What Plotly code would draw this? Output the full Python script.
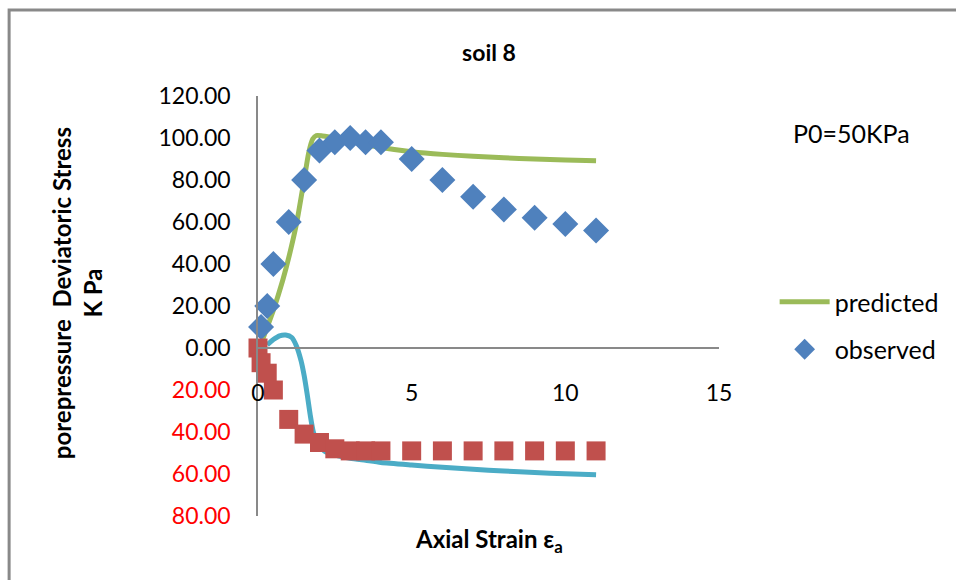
import plotly.graph_objects as go

# Deviatoric stress vs axial strain
strain_obs = [0.1, 0.3, 0.5, 1.0, 1.5, 2.0, 2.5, 3.0, 3.5, 4.0, 5.0, 6.0, 7.0, 8.0, 9.0, 10.0, 11.0]
stress_obs = [10, 20, 40, 60, 80, 94, 98, 100, 98, 98, 90, 80, 72, 66, 62, 59, 56]

strain_pred = [0.05, 0.2, 0.5, 0.8, 1.0, 1.25, 1.5, 1.65, 1.78, 1.9, 2.1, 2.5, 3.0, 4.0, 5.0, 6.0, 7.0, 8.0, 9.0, 10.0, 11.0]
stress_pred = [0, 6, 18, 32, 43, 59, 80, 93, 99.5, 101.2, 101, 100, 98.3, 95.5, 93.5, 92.2, 91.3, 90.6, 90.0, 89.5, 89.2]

# Pore pressure (plotted negative, below the strain axis)
strain_pp_obs = [0.0, 0.1, 0.3, 0.5, 1.0, 1.5, 2.0, 2.5, 3.0, 3.5, 4.0, 5.0, 6.0, 7.0, 8.0, 9.0, 10.0, 11.0]
pp_obs = [0, -7, -12, -20, -34, -41, -45, -48, -49, -49, -49, -49, -49, -49, -49, -49, -49, -49]

strain_pp_pred = [0.3, 0.5, 0.7, 0.9, 1.1, 1.25, 1.4, 1.5, 1.6, 1.7, 1.8, 1.95, 2.2, 2.6, 3.0, 3.5, 4.0, 5.0, 6.0, 7.0, 8.0, 9.0, 10.0, 11.0]
pp_pred = [1.5, 4, 5.8, 6.2, 5, 1, -6, -13, -22, -32, -40, -46, -49.5, -51.3, -52.5, -53.5, -54.5, -55.7, -56.8, -57.7, -58.6, -59.3, -59.9, -60.4]

y_ticks = [-80, -60, -40, -20, 0, 20, 40, 60, 80, 100, 120]
x_ticks = [0, 5, 10, 15]

GREEN = "#9BBB59"
BLUE = "#4F81BD"
RED = "#C0504D"
CYAN = "#4BACC6"
AXIS = "#898989"
FONT = "Lato"


def y_label(v):
    if v < 0:
        return f'<span style="color:#FF0000">{abs(v):.2f}</span>'
    return f"{v:.2f}"


fig = go.Figure()

fig.add_trace(go.Scatter(
    x=strain_pred, y=stress_pred, mode="lines", name="predicted",
    line=dict(color=GREEN, width=5, shape="spline", smoothing=0.6),
    legendgroup="a", cliponaxis=False,
))
fig.add_trace(go.Scatter(
    x=strain_obs, y=stress_obs, mode="markers", name="observed",
    marker=dict(symbol="diamond", color=BLUE, size=20),
    legendgroup="b", cliponaxis=False,
))
fig.add_trace(go.Scatter(
    x=strain_pp_pred, y=pp_pred, mode="lines", name="porepressure predicted",
    line=dict(color=CYAN, width=5, shape="spline", smoothing=0.6),
    showlegend=False, cliponaxis=False,
))
fig.add_trace(go.Scatter(
    x=strain_pp_obs, y=pp_obs, mode="markers", name="porepressure observed",
    marker=dict(symbol="square", color=RED, size=19),
    showlegend=False, cliponaxis=False,
))

# plot area: x 258..722 px, y 96..516 px
L, R, T, B = 258, 956 - 722, 96, 580 - 516
PW, PH = 956 - L - R, 580 - T - B


def px_x(px):
    return (px - L) / PW


def px_y(py):
    return (580 - B - py) / PH


fig.update_layout(
    width=956, height=580,
    margin=dict(l=L, r=R, t=T, b=B),
    paper_bgcolor="white", plot_bgcolor="white",
    font=dict(family=FONT, size=23, color="black"),
    title=dict(text="<b>soil 8</b>", x=489 / 956, y=1 - 53 / 580,
               xanchor="center", yanchor="middle",
               font=dict(family=FONT, size=23, color="black")),
    xaxis=dict(
        range=[0, 15], tickvals=x_ticks, ticktext=[str(v) for v in x_ticks],
        showgrid=False, zeroline=False, showline=True, linecolor=AXIS, linewidth=1.5,
        ticks="", anchor="free", position=px_y(348), ticklabelstandoff=25,
        tickfont=dict(family=FONT, size=23, color="black"),
    ),
    yaxis=dict(
        range=[-80, 120], tickvals=y_ticks, ticktext=[y_label(v) for v in y_ticks],
        showgrid=False, zeroline=False, showline=True, linecolor=AXIS, linewidth=1.5,
        ticks="", ticklabelstandoff=21,
        tickfont=dict(family=FONT, size=23, color="black"),
    ),
    legend=dict(
        x=px_x(778), y=px_y(279), xanchor="left", yanchor="top",
        bgcolor="rgba(0,0,0,0)", tracegroupgap=12, itemwidth=50,
        font=dict(family=FONT, size=25, color="black"),
    ),
    showlegend=True,
)

fig.add_annotation(
    text="<b>porepressure\u00a0 Deviatoric Stress<br>K Pa</b>",
    textangle=-90, xref="paper", yref="paper",
    x=px_x(76), y=px_y(293), xanchor="center", yanchor="middle",
    showarrow=False, font=dict(family=FONT, size=24, color="black"),
)
fig.add_annotation(
    text="<b>Axial Strain ε<sub>a</sub></b>",
    xref="paper", yref="paper", x=px_x(491), y=px_y(540),
    xanchor="center", yanchor="middle", showarrow=False,
    font=dict(family=FONT, size=24, color="black"),
)
fig.add_annotation(
    text="P0=50KPa", xref="paper", yref="paper",
    x=px_x(855), y=px_y(133), xanchor="center", yanchor="middle",
    showarrow=False, font=dict(family=FONT, size=25, color="black"),
)

# chart frame
fig.add_shape(
    type="rect", xref="paper", yref="paper",
    x0=px_x(7.5), y0=px_y(700), x1=px_x(1100), y1=px_y(10),
    line=dict(color=AXIS, width=3), fillcolor="rgba(0,0,0,0)", layer="below",
)

fig.write_html("out.html")
